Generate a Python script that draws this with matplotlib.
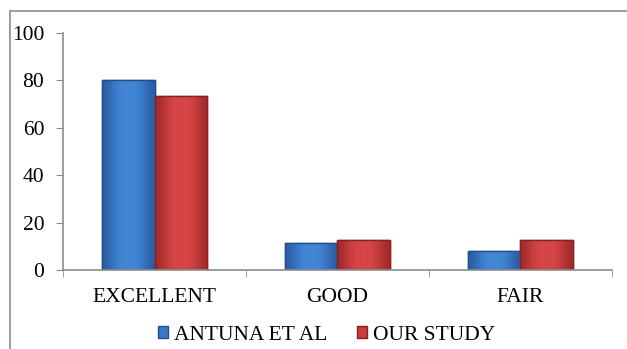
import matplotlib.pyplot as plt
from matplotlib.patches import Rectangle
from matplotlib.colors import LinearSegmentedColormap
import numpy as np

plt.rcParams['font.family'] = ['Liberation Serif', 'DejaVu Serif']

categories = ["EXCELLENT", "GOOD", "FAIR"]
antuna = [80, 11.3, 8.2]
our_study = [73.5, 12.7, 12.7]
series_names = ["ANTUNA ET AL", "OUR STUDY"]

fig = plt.figure(figsize=(6.27, 3.49), dpi=100)
ax = fig.add_axes([0.1005, 0.2264, 0.8755, 0.679])

# outer chart frame (runs off the right and bottom edges)
fig.patches.append(Rectangle((10 / 627, -0.1), 1.1, 1 - 11 / 349 + 0.1,
                             transform=fig.transFigure, fill=False,
                             edgecolor="#8c8c8c", linewidth=1.2))

x = np.arange(len(categories))
w = 0.285
b1 = ax.bar(x - w / 2, antuna, w, color="#3a78c9", edgecolor="#24508a",
            linewidth=1, label=series_names[0])
b2 = ax.bar(x + w / 2, our_study, w, color="#cc3b3b", edgecolor="#8a2020",
            linewidth=1, label=series_names[1])

# soft bevel look: darker towards the bar sides
grad = np.array([[0.0, 0.6, 1.0, 1.0, 1.0, 0.6, 0.0]])
for bars, dark, mid in [(b1, "#2a5ea6", "#4286d6"), (b2, "#a52a2a", "#d64646")]:
    cmap = LinearSegmentedColormap.from_list("bev", [dark, mid])
    for p in bars:
        x0, y0 = p.get_x(), p.get_y()
        im = ax.imshow(grad, cmap=cmap, aspect="auto", interpolation="bicubic",
                       extent=(x0, x0 + p.get_width(), y0, y0 + p.get_height()),
                       zorder=p.get_zorder() + 0.1)
        im.set_clip_path(p)
        ax.add_patch(Rectangle((x0, y0), p.get_width(), p.get_height(),
                               fill=False, edgecolor=p.get_edgecolor(),
                               linewidth=1, zorder=p.get_zorder() + 0.2))

ax.set_ylim(0, 100)
ax.set_xlim(-0.5, 2.5)
ax.set_yticks(range(0, 101, 20))
ax.set_xticks(x)
ax.set_xticklabels(categories)
ax.set_xticks([-0.5, 0.5, 1.5, 2.5], minor=True)
ax.tick_params(axis="x", which="major", length=0, pad=13, labelsize=15.5)
ax.tick_params(axis="x", which="minor", length=5, color="#8c8c8c")
ax.tick_params(axis="y", length=5, color="#8c8c8c", pad=8.5, labelsize=15.5)

for s in ["top", "right"]:
    ax.spines[s].set_visible(False)
for s in ["left", "bottom"]:
    ax.spines[s].set_color("#8c8c8c")
    ax.spines[s].set_linewidth(1.2)

fig.legend(handles=[b1, b2], loc="center", bbox_to_anchor=(0.521, 0.04),
           ncol=2, frameon=False,
           prop={"family": "Liberation Serif", "size": 15.5},
           handlelength=0.47, handleheight=0.47, handletextpad=0.25,
           columnspacing=1.4)

fig.savefig("out.png", dpi=100)
